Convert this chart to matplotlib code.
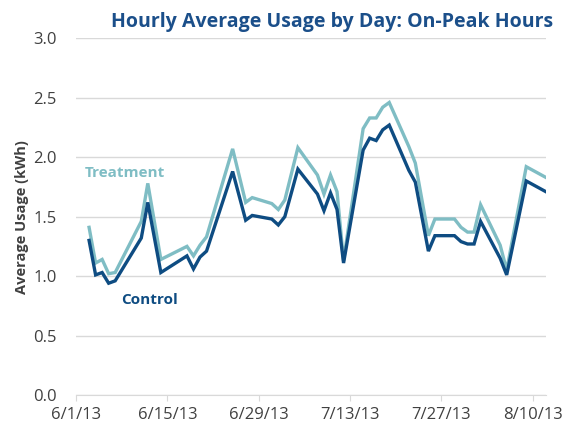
import pandas as pd
import matplotlib
matplotlib.use("Agg")
import matplotlib.pyplot as plt
import matplotlib.dates as mdates

plt.rcParams['font.family'] = ['Open Sans', 'DejaVu Sans']

# weekday on-peak averages (kWh)
dates = ['2013-06-03', '2013-06-04', '2013-06-05', '2013-06-06', '2013-06-07',
         '2013-06-11', '2013-06-12', '2013-06-14', '2013-06-18', '2013-06-19',
         '2013-06-20', '2013-06-21', '2013-06-25', '2013-06-27', '2013-06-28',
         '2013-07-01', '2013-07-02', '2013-07-03', '2013-07-05', '2013-07-08',
         '2013-07-09', '2013-07-10', '2013-07-11', '2013-07-12', '2013-07-15',
         '2013-07-16', '2013-07-17', '2013-07-18', '2013-07-19', '2013-07-22',
         '2013-07-23', '2013-07-25', '2013-07-26', '2013-07-29', '2013-07-30',
         '2013-07-31', '2013-08-01', '2013-08-02', '2013-08-05', '2013-08-06',
         '2013-08-09', '2013-08-12']
control = [1.30, 1.01, 1.03, 0.94, 0.96,
           1.32, 1.62, 1.03, 1.17, 1.06,
           1.16, 1.21, 1.88, 1.47, 1.51,
           1.48, 1.43, 1.50, 1.90, 1.69,
           1.55, 1.70, 1.56, 1.11, 2.06,
           2.16, 2.14, 2.23, 2.27, 1.89,
           1.79, 1.21, 1.34, 1.34, 1.29,
           1.27, 1.27, 1.46, 1.15, 1.01,
           1.80, 1.71]
treatment = [1.41, 1.11, 1.14, 1.02, 1.03,
             1.46, 1.78, 1.14, 1.25, 1.17,
             1.26, 1.33, 2.07, 1.62, 1.66,
             1.61, 1.56, 1.64, 2.08, 1.85,
             1.69, 1.85, 1.71, 1.13, 2.24,
             2.33, 2.33, 2.42, 2.46, 2.09,
             1.95, 1.34, 1.48, 1.48, 1.41,
             1.37, 1.37, 1.60, 1.26, 1.05,
             1.92, 1.83]
tick_dates = ['2013-06-01', '2013-06-15', '2013-06-29', '2013-07-13', '2013-07-27', '2013-08-10']
tick_labels = ['6/1/13', '6/15/13', '6/29/13', '7/13/13', '7/27/13', '8/10/13']

x = pd.to_datetime(dates)

fig = plt.figure(figsize=(5.64, 4.29), dpi=100)
ax = fig.add_axes([0.1348, 0.0793, 0.833, 0.8314])

ctrl_col = '#0E4C82'
trt_col = '#7FBDC4'
grid_col = '#D9D9D9'
text_col = '#404040'

ax.plot(x, treatment, color=trt_col, lw=2.4, solid_joinstyle='miter', zorder=3)
ax.plot(x, control, color=ctrl_col, lw=2.4, solid_joinstyle='miter', zorder=4)

ax.set_ylim(0, 3.0)
ax.set_yticks([0, 0.5, 1.0, 1.5, 2.0, 2.5, 3.0])
ax.set_yticklabels(['%.1f' % v for v in [0, 0.5, 1.0, 1.5, 2.0, 2.5, 3.0]])
ax.set_xlim(pd.Timestamp('2013-06-01'), pd.Timestamp('2013-08-12'))
ax.set_xticks(pd.to_datetime(tick_dates))
ax.set_xticklabels(tick_labels)

ax.grid(axis='y', color=grid_col, lw=1)
ax.set_axisbelow(True)
for s in ['top', 'right', 'left']:
    ax.spines[s].set_visible(False)
ax.spines['bottom'].set_color(grid_col)
ax.tick_params(axis='y', length=0, pad=14, labelsize=12, labelcolor=text_col)
ax.tick_params(axis='x', length=4, color=grid_col, pad=5, labelsize=12, labelcolor=text_col)

ax.set_ylabel('Average Usage (kWh)', fontsize=10.5, fontweight='bold', color=text_col, labelpad=3)

ax.text(pd.Timestamp('2013-06-08 12:00'), 1.87, 'Treatment', color=trt_col,
        fontsize=11, fontweight='bold', ha='center', va='center')
ax.text(pd.Timestamp('2013-06-12 08:00'), 0.80, 'Control', color=ctrl_col,
        fontsize=11, fontweight='bold', ha='center', va='center')

fig.text(0.98, 0.949, 'Hourly Average Usage by Day: On-Peak Hours', color='#1B4F8A',
         fontsize=14, fontweight='bold', ha='right', va='center')

fig.savefig('out.png', dpi=100)
